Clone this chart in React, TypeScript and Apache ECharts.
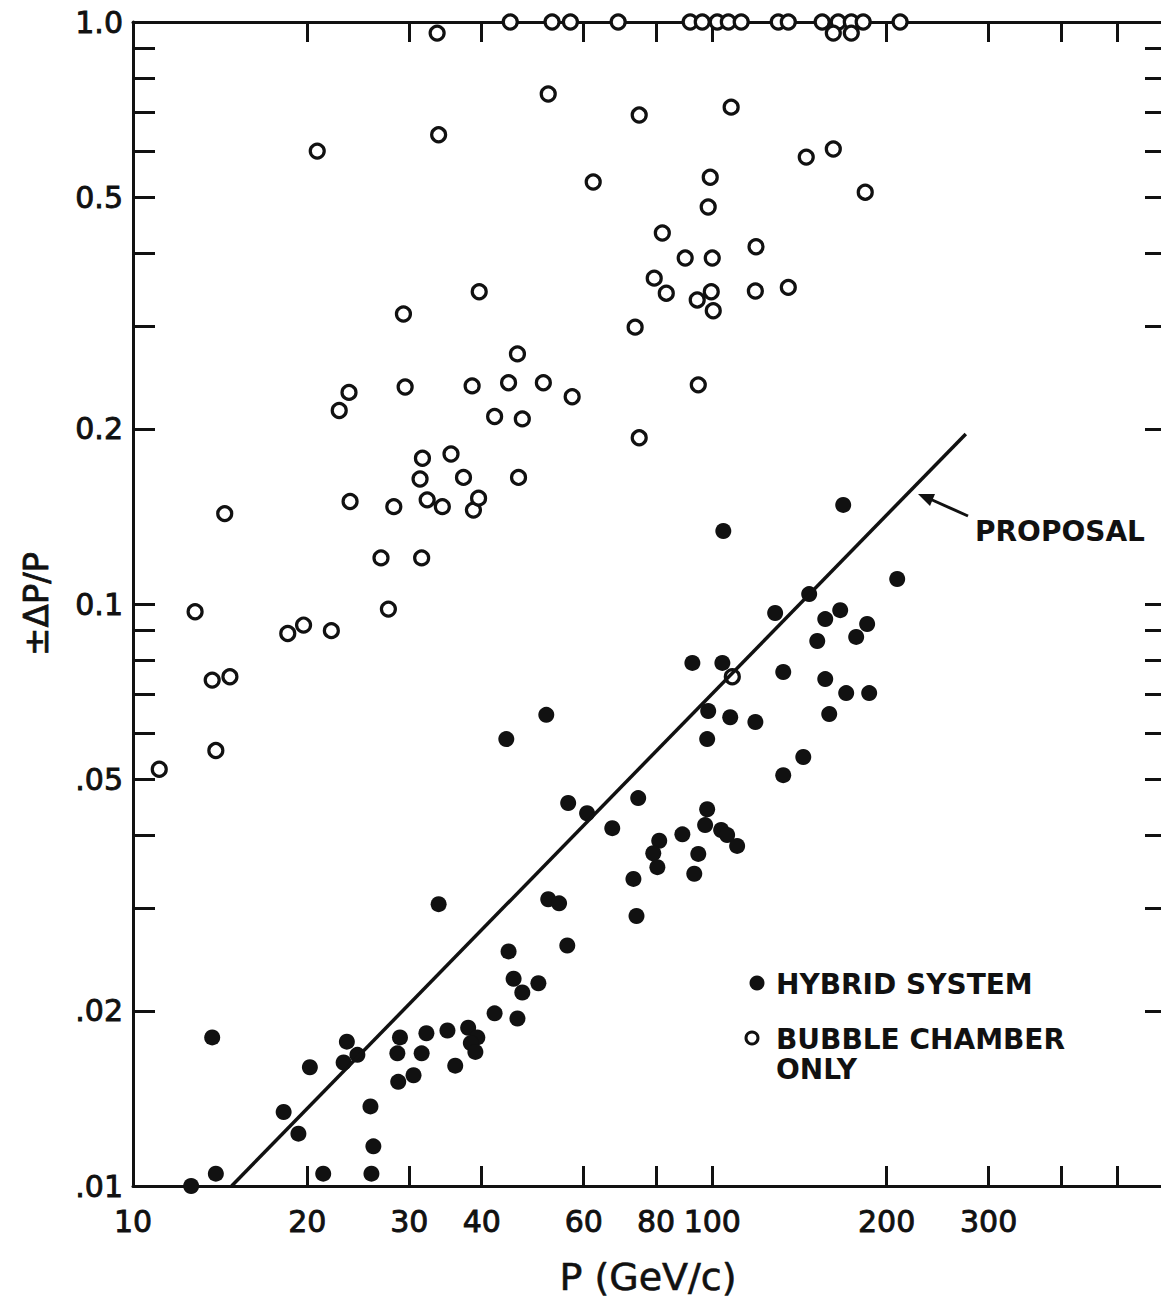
import React, { useEffect, useRef } from 'react';
import * as echarts from 'echarts';

// ---- data ----
const bubbleP = [
  11.1, 12.8, 13.7, 14.7, 13.9, 14.4, 18.5, 19.7, 22.0, 20.8,
  22.7, 23.6, 23.7, 26.8, 27.6, 28.2, 29.3, 29.5, 31.5, 31.3,
  31.6, 32.2, 34.2, 35.4, 37.2, 33.5, 33.7, 38.5, 38.7, 39.5,
  39.6, 42.1, 44.5, 46.1, 47.0, 46.3, 44.8, 52.1, 51.1, 57.3,
  52.9, 56.9, 62.3, 68.8, 73.6, 74.8, 74.8, 79.4, 82.0, 83.3,
  89.8, 94.2, 94.6, 91.6, 96.1, 102, 106.6, 112.2, 98.4, 99.2,
  100, 99.6, 100.4, 107.8, 119, 118.7, 130, 135.3, 135.3, 145.3,
  161.8, 183.7, 154.8, 165, 173.8, 182.2, 161.8, 173.8, 211, 108.3,
];
const bubbleDp = [
  0.052, 0.097, 0.074, 0.075, 0.056, 0.143, 0.089, 0.092, 0.090, 0.60,
  0.215, 0.231, 0.150, 0.120, 0.098, 0.147, 0.315, 0.236, 0.120, 0.164,
  0.178, 0.151, 0.147, 0.181, 0.165, 0.957, 0.64, 0.237, 0.145, 0.152,
  0.344, 0.210, 0.240, 0.269, 0.208, 0.165, 1.0, 0.752, 0.240, 0.227,
  1.0, 1.0, 0.531, 1.0, 0.299, 0.692, 0.193, 0.363, 0.434, 0.342,
  0.393, 0.333, 0.238, 1.0, 1.0, 1.0, 1.0, 1.0, 0.481, 0.541,
  0.393, 0.344, 0.319, 0.714, 0.411, 0.345, 1.0, 1.0, 0.350, 0.586,
  0.605, 0.510, 1.0, 1.0, 1.0, 1.0, 0.957, 0.957, 1.0, 0.075,
];
const hybridP = [
  12.6, 13.7, 13.9, 18.2, 19.3, 20.2, 21.3, 23.4, 23.1, 24.4,
  25.7, 26.0, 25.8, 28.9, 28.6, 28.7, 30.5, 31.5, 32.1, 34.9,
  36.0, 33.7, 37.9, 39.3, 38.3, 39.0, 42.1, 46.1, 44.5, 45.4,
  47.0, 50.1, 44.1, 51.7, 52.1, 54.4, 56.2, 56.4, 60.8, 67.2,
  74.5, 73.1, 74.0, 81.0, 79.1, 80.4, 88.8, 94.6, 93.1, 98.0,
  97.2, 103.6, 106.1, 110.4, 98.0, 92.4, 104.1, 98.4, 107.4, 118.7,
  104.5, 132.6, 132.6, 143.6, 128.4, 147.0, 168.3, 208.6, 166.3, 156.7,
  185.1, 151.8, 177.2, 156.7, 170.3, 186.6, 159.2,
];
const hybridDp = [
  0.0100, 0.0180, 0.0105, 0.0134, 0.0123, 0.0160, 0.0105, 0.0177, 0.0163, 0.0168,
  0.0137, 0.0117, 0.0105, 0.0180, 0.0169, 0.0151, 0.0155, 0.0169, 0.0183, 0.0185,
  0.0161, 0.0305, 0.0187, 0.0180, 0.0176, 0.0170, 0.0198, 0.0194, 0.0253, 0.0227,
  0.0215, 0.0223, 0.0586, 0.0645, 0.0311, 0.0306, 0.0259, 0.0455, 0.0437, 0.0412,
  0.0464, 0.0337, 0.0291, 0.0392, 0.0373, 0.0353, 0.0402, 0.0372, 0.0344, 0.0444,
  0.0417, 0.0409, 0.0401, 0.0384, 0.0586, 0.0792, 0.0792, 0.0655, 0.0639, 0.0627,
  0.1335, 0.0764, 0.0508, 0.0546, 0.0965, 0.104, 0.148, 0.1104, 0.0976, 0.0942,
  0.0924, 0.0864, 0.0878, 0.0743, 0.0703, 0.0703, 0.0647,
];
const proposalP = [14.8, 274];
const proposalDp = [0.01, 0.196];

const xTickValues = [20, 30, 40, 60, 80, 100, 200, 300, 400, 500];
const xLabelValues = [10, 20, 30, 40, 60, 80, 100, 200, 300];
const yTickValues = [0.9, 0.8, 0.7, 0.6, 0.5, 0.4, 0.3, 0.2, 0.1, 0.09, 0.08, 0.07, 0.06, 0.05, 0.04, 0.03, 0.02];
const yLabelValues = [1, 0.5, 0.2, 0.1, 0.05, 0.02, 0.01];
const yLabelTexts = ['1.0', '0.5', '0.2', '0.1', '.05', '.02', '.01'];

const X_MIN = 10;
const X_MAX = 600;
const Y_MIN = 0.01;
const Y_MAX = 1;

const lg = (v: number) => Math.log10(v);
const FONT = '"DejaVu Sans", sans-serif';
const INK = '#111';

function fmtX(v: number) {
  const i = xLabelValues.findIndex((x) => Math.abs(lg(x) - v) < 1e-6);
  return i >= 0 ? String(xLabelValues[i]) : '';
}
function fmtY(v: number) {
  const i = yLabelValues.findIndex((y) => Math.abs(lg(y) - v) < 1e-6);
  return i >= 0 ? yLabelTexts[i] : '';
}

export default function App() {
  const ref = useRef<HTMLDivElement>(null);
  useEffect(() => {
    if (!ref.current) return;
    const chart = echarts.init(ref.current, undefined, { renderer: 'svg' });
    const tickStyle = { color: INK, width: 3 };
    const labelFont = {
      fontFamily: FONT, fontSize: 30, fontWeight: 'normal', color: INK,
      textBorderColor: INK, textBorderWidth: 0.9,
    };
    const option: any = {
      animation: false,
      backgroundColor: '#fff',
      grid: { left: 133, top: 22, right: -2, bottom: 112, containLabel: false, outerBoundsMode: 'none' },
      xAxis: [
        {
          type: 'log', logBase: 10, min: X_MIN, max: X_MAX, position: 'bottom',
          axisLine: { show: true, onZero: false, lineStyle: { color: INK, width: 3 } },
          axisTick: { show: false }, axisLabel: { show: false },
          splitLine: { show: false }, minorTick: { show: false },
        },
        {
          type: 'value', min: lg(X_MIN), max: lg(X_MAX), position: 'bottom',
          axisLine: { show: false, onZero: false },
          axisTick: { show: true, inside: true, length: 20, customValues: xTickValues.map(lg), lineStyle: tickStyle },
          axisLabel: {
            show: true, customValues: xLabelValues.map(lg), formatter: fmtX,
            margin: 20, ...labelFont,
          },
          splitLine: { show: false },
          name: 'P (GeV/c)', nameLocation: 'middle', nameGap: 72,
          nameTextStyle: { fontFamily: FONT, fontSize: 38, color: INK, textBorderColor: INK, textBorderWidth: 0.6 },
        },
        {
          type: 'value', min: lg(X_MIN), max: lg(X_MAX), position: 'top',
          axisLine: { show: true, onZero: false, lineStyle: { color: INK, width: 3 } },
          axisTick: { show: true, inside: true, length: 20, customValues: xTickValues.map(lg), lineStyle: tickStyle },
          axisLabel: { show: false }, splitLine: { show: false },
        },
      ],
      yAxis: [
        {
          type: 'log', logBase: 10, min: Y_MIN, max: Y_MAX, position: 'left',
          axisLine: { show: true, onZero: false, lineStyle: { color: INK, width: 3 } },
          axisTick: { show: false }, axisLabel: { show: false },
          splitLine: { show: false }, minorTick: { show: false },
        },
        {
          type: 'value', min: lg(Y_MIN), max: lg(Y_MAX), position: 'left',
          axisLine: { show: false, onZero: false },
          axisTick: { show: true, inside: true, length: 22, customValues: yTickValues.map(lg), lineStyle: tickStyle },
          axisLabel: {
            show: true, customValues: yLabelValues.map(lg), formatter: fmtY,
            margin: 10, ...labelFont,
          },
          splitLine: { show: false },
          name: '±ΔP/P', nameLocation: 'middle', nameGap: 80, nameRotate: 90,
          nameTextStyle: { fontFamily: FONT, fontSize: 34, color: INK, textBorderColor: INK, textBorderWidth: 0.8 },
        },
        {
          type: 'value', min: lg(Y_MIN), max: lg(Y_MAX), position: 'right',
          axisLine: { show: false, onZero: false },
          axisTick: { show: true, inside: true, length: 18, customValues: yTickValues.map(lg), lineStyle: tickStyle },
          axisLabel: { show: false }, splitLine: { show: false },
        },
      ],
      series: [
        {
          name: 'PROPOSAL', type: 'line', xAxisIndex: 0, yAxisIndex: 0,
          data: proposalP.map((p, i) => [p, proposalDp[i]]),
          showSymbol: false, symbol: 'none', clip: false,
          lineStyle: { color: INK, width: 3.5 },
        },
        {
          name: 'BUBBLE CHAMBER ONLY', type: 'scatter', xAxisIndex: 0, yAxisIndex: 0,
          data: bubbleP.map((p, i) => [p, bubbleDp[i]]),
          symbol: 'circle', symbolSize: 14, clip: false,
          itemStyle: { color: '#fff', borderColor: INK, borderWidth: 3.2, opacity: 1 },
        },
        {
          name: 'HYBRID SYSTEM', type: 'scatter', xAxisIndex: 0, yAxisIndex: 0,
          data: hybridP.map((p, i) => [p, hybridDp[i]]),
          symbol: 'circle', symbolSize: 16, clip: false,
          itemStyle: { color: INK, opacity: 1 },
        },
      ],
      graphic: [
        { type: 'circle', shape: { cx: 757, cy: 983, r: 7.5 }, style: { fill: INK } },
        { type: 'text', x: 776, y: 984, style: { text: 'HYBRID SYSTEM', fontFamily: FONT, fontWeight: 'bold', fontSize: 28, fill: INK, verticalAlign: 'middle' } },
        { type: 'circle', shape: { cx: 752, cy: 1038, r: 6 }, style: { fill: '#fff', stroke: INK, lineWidth: 3 } },
        { type: 'text', x: 776, y: 1039, style: { text: 'BUBBLE CHAMBER', fontFamily: FONT, fontWeight: 'bold', fontSize: 28, fill: INK, verticalAlign: 'middle' } },
        { type: 'text', x: 776, y: 1069, style: { text: 'ONLY', fontFamily: FONT, fontWeight: 'bold', fontSize: 28, fill: INK, verticalAlign: 'middle' } },
        { type: 'text', x: 975, y: 531, style: { text: 'PROPOSAL', fontFamily: FONT, fontWeight: 'bold', fontSize: 28, fill: INK, verticalAlign: 'middle' } },
        { type: 'line', shape: { x1: 930, y1: 499, x2: 968, y2: 516 }, style: { stroke: INK, lineWidth: 3 } },
        { type: 'polygon', shape: { points: [[918, 494], [930, 506], [935, 494]] }, style: { fill: INK } },
      ],
    };
    chart.setOption(option);
    return () => chart.dispose();
  }, []);
  return (
    <div
      ref={ref}
      style={{ position: 'absolute', left: 0, top: 0, width: 1161, height: 1298, background: '#fff' }}
    />
  );
}
